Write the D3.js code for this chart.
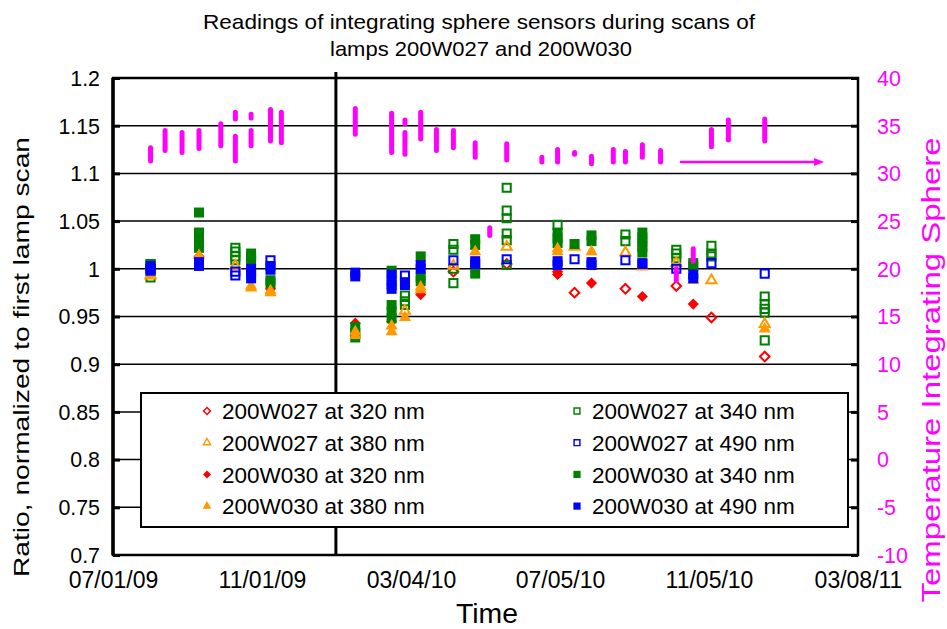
<!DOCTYPE html>
<html><head><meta charset="utf-8">
<script src="https://cdn.jsdelivr.net/npm/d3@7"></script>
<style>body{margin:0;background:#fff} svg{display:block}</style>
</head><body><svg id="c" width="947" height="629"></svg>
<script>
// ---------- DATA ----------
const xTickLabels = ["07/01/09","11/01/09","03/04/10","07/05/10","11/05/10","03/08/11"];
const yTicks = [0.7,0.75,0.8,0.85,0.9,0.95,1.0,1.05,1.1,1.15,1.2];
const yTempTicks = [-10,-5,0,5,10,15,20,25,30,35,40];
const dividerDate = "2010-01-01";

const s027_320 = [
 ["2010-04-08",0.997],["2010-05-22",1.005],["2010-07-17",0.975],["2010-08-28",0.979],
 ["2010-10-09",0.982],["2010-11-07",0.949],["2010-12-21",0.908]];
const s027_340 = [
 ["2009-08-01",1.005],["2009-08-01",0.991],
 ["2009-10-10",1.022],["2009-10-10",1.018],["2009-10-10",1.013],["2009-10-10",1.009],
 ["2010-02-27",0.972],["2010-02-27",0.966],["2010-02-27",0.962],
 ["2010-04-08",1.026],["2010-04-08",1.020],["2010-04-08",1.000],["2010-04-08",0.985],
 ["2010-05-22",1.085],["2010-05-22",1.061],["2010-05-22",1.053],["2010-05-22",1.037],["2010-05-22",1.030],["2010-05-22",1.004],
 ["2010-07-03",1.046],
 ["2010-08-28",1.036],["2010-08-28",1.029],
 ["2010-10-09",1.020],["2010-10-09",1.016],["2010-10-09",1.011],
 ["2010-11-07",1.024],["2010-11-07",1.016],["2010-11-07",1.013],
 ["2010-12-21",0.971],["2010-12-21",0.963],["2010-12-21",0.958],["2010-12-21",0.954],["2010-12-21",0.925]];
const s027_380 = [
 ["2009-08-01",0.993],["2009-10-10",1.003],["2010-02-27",0.956],["2010-04-08",1.003],
 ["2010-05-22",1.023],["2010-07-17",1.023],["2010-08-28",1.017],["2010-10-09",1.006],
 ["2010-11-07",0.988],["2010-12-21",0.942]];
const s027_490 = [
 ["2009-08-01",1.000],["2009-10-10",0.997],["2009-10-10",0.993],["2009-11-08",1.009],
 ["2010-02-27",0.993],["2010-04-08",1.009],["2010-05-22",1.010],["2010-07-17",1.010],
 ["2010-08-28",1.009],["2010-10-09",1.000],["2010-11-07",1.006],["2010-12-21",0.995]];
const s030_320 = [
 ["2009-09-10",1.013],["2009-11-08",0.979],["2010-01-17",0.943],["2010-02-16",0.945],
 ["2010-03-12",0.973],["2010-04-26",1.002],["2010-07-03",0.997],["2010-07-03",0.994],
 ["2010-07-31",0.985],["2010-09-11",0.971],["2010-10-23",0.963]];
const s030_340 = [
 ["2009-08-01",1.005],
 ["2009-09-10",1.059],["2009-09-10",1.038],["2009-09-10",1.033],["2009-09-10",1.028],["2009-09-10",1.022],
 ["2009-10-23",1.016],["2009-10-23",1.012],["2009-10-23",1.009],
 ["2009-11-08",0.988],["2009-11-08",0.985],
 ["2010-01-17",0.939],["2010-01-17",0.933],["2010-01-17",0.928],
 ["2010-02-16",0.998],["2010-02-16",0.962],["2010-02-16",0.955],["2010-02-16",0.948],
 ["2010-03-12",1.013],["2010-03-12",0.991],["2010-03-12",0.987],
 ["2010-04-26",1.031],["2010-04-26",1.025],["2010-04-26",0.995],
 ["2010-07-03",1.038],["2010-07-03",1.032],["2010-07-03",1.027],
 ["2010-07-17",1.026],
 ["2010-07-31",1.035],["2010-07-31",1.029],
 ["2010-09-11",1.038],["2010-09-11",1.033],["2010-09-11",1.028],["2010-09-11",1.023],["2010-09-11",1.017],
 ["2010-10-23",1.006],["2010-10-23",1.003]];
const s030_380 = [
 ["2009-08-01",0.994],["2009-09-10",1.014],["2009-10-23",0.982],["2009-10-23",0.980],
 ["2009-11-08",0.977],["2009-11-08",0.975],["2010-01-17",0.934],["2010-01-17",0.930],
 ["2010-02-16",0.940],["2010-02-16",0.934],["2010-02-27",0.949],["2010-03-12",0.981],
 ["2010-03-12",0.978],["2010-04-26",1.018],["2010-07-03",1.021],["2010-07-03",1.018],
 ["2010-07-31",1.018],["2010-09-11",1.002],["2010-10-23",0.988],["2010-12-21",0.937]];
const s030_490 = [
 ["2009-08-01",1.003],["2009-08-01",1.000],["2009-08-01",0.998],
 ["2009-09-10",1.007],["2009-09-10",1.003],
 ["2009-10-23",1.000],["2009-10-23",0.995],["2009-10-23",0.990],
 ["2009-11-08",1.003],["2009-11-08",0.999],
 ["2010-01-17",0.996],["2010-01-17",0.992],
 ["2010-02-16",0.994],["2010-02-16",0.988],["2010-02-16",0.983],["2010-02-16",0.979],
 ["2010-02-27",0.986],["2010-02-27",0.983],
 ["2010-03-12",1.004],["2010-03-12",1.000],
 ["2010-04-26",1.008],["2010-04-26",1.005],
 ["2010-07-03",1.008],["2010-07-03",1.004],
 ["2010-07-31",1.007],["2010-07-31",1.004],
 ["2010-09-11",1.006],["2010-09-11",1.005],
 ["2010-10-23",0.994],["2010-10-23",0.990]];

// temperature of integrating sphere: [date, low, high]
const sphereTemp = [
 ["2009-08-01",31.3,32.7],["2009-08-13",32.4,34.5],["2009-08-27",32.2,34.3],["2009-09-10",32.6,34.5],
 ["2009-09-28",32.9,35.2],["2009-10-10",35.7,36.4],["2009-10-10",31.3,33.9],["2009-10-23",35.8,36.2],
 ["2009-10-23",32.9,34.5],["2009-11-08",33.4,36.7],["2009-11-17",33.2,36.4],
 ["2010-01-17",34.1,36.8],["2010-02-16",32.2,36.3],["2010-02-27",35.2,35.6],["2010-02-27",32.0,34.3],
 ["2010-03-12",33.6,36.4],["2010-03-25",32.4,34.6],["2010-04-08",32.7,34.5],["2010-04-26",31.7,33.2],
 ["2010-05-08",23.5,24.3],["2010-05-22",31.4,33.1],["2010-06-20",31.2,31.7],["2010-07-03",31.2,32.5],
 ["2010-07-17",32.0,32.2],["2010-07-31",31.0,31.8],["2010-08-18",31.2,32.5],["2010-08-28",31.2,32.3],
 ["2010-09-11",31.7,33.0],["2010-09-26",31.2,32.4],["2010-10-09",18.8,20.0],["2010-10-23",20.8,22.1],
 ["2010-11-07",32.8,34.6],["2010-11-21",33.5,35.6],["2010-12-21",33.4,35.7]];
const arrowNote = {from:"2010-10-12", to:"2011-02-08", temp:31.2};

// ---------- STYLE ----------
const FONT = '"Liberation Sans", Arial, sans-serif';
const X0=113, X1=858, Y0=78, Y1=555;
const seriesDefs = [
 {name:"200W027 at 320 nm", data:s027_320, shape:"diamond", color:"#FF0000", filled:false},
 {name:"200W027 at 340 nm", data:s027_340, shape:"square", color:"#008000", filled:false},
 {name:"200W027 at 380 nm", data:s027_380, shape:"triangle", color:"#FF9900", filled:false},
 {name:"200W027 at 490 nm", data:s027_490, shape:"square", color:"#0000FF", filled:false},
 {name:"200W030 at 320 nm", data:s030_320, shape:"diamond", color:"#FF0000", filled:true},
 {name:"200W030 at 340 nm", data:s030_340, shape:"square", color:"#008000", filled:true},
 {name:"200W030 at 380 nm", data:s030_380, shape:"triangle", color:"#FF9900", filled:true},
 {name:"200W030 at 490 nm", data:s030_490, shape:"square", color:"#0000FF", filled:true}];

const svg = d3.select("#c");
const parse = d3.timeParse("%Y-%m-%d");
const parseTick = d3.timeParse("%m/%d/%y");
const tickDates = xTickLabels.map(parseTick);
const x = d3.scaleTime().domain([tickDates[0], tickDates[tickDates.length-1]]).range([X0,X1]);
const y = d3.scaleLinear().domain([0.7,1.2]).range([Y1,Y0]);
const yT = d3.scaleLinear().domain([-10,40]).range([Y1,Y0]);

function condense(cx){
  return sel => sel.each(function(){
    const t=d3.select(this); const xx=+t.attr("x")||0; const yy=+t.attr("y")||0;
    t.attr("x",0).attr("y",0).attr("transform",`translate(${xx},${yy}) scale(${cx},1)`);
  });
}

// gridlines
svg.append("g").selectAll("line").data(yTicks.slice(1,-1)).join("line")
  .attr("x1",X0).attr("x2",X1).attr("y1",d=>y(d)).attr("y2",d=>y(d))
  .attr("stroke","#000").attr("stroke-width",1.5);

// left axis
const fmt = d=> String(+d.toFixed(2));
const gl = svg.append("g").attr("transform",`translate(${X0},0)`)
  .call(d3.axisLeft(y).tickValues(yTicks).tickFormat(fmt).tickSizeInner(-7).tickSizeOuter(0).tickPadding(13))
  .attr("font-family",FONT).attr("font-size",23);
gl.select(".domain").remove();
gl.selectAll(".tick line").attr("stroke","#000").attr("stroke-width",3);
gl.selectAll(".tick text").attr("fill","#000").call(condense(0.93));

// right axis
const gr = svg.append("g").attr("transform",`translate(${X1},0)`)
  .call(d3.axisRight(yT).tickValues(yTempTicks).tickFormat(d=>String(d)).tickSizeInner(-7).tickSizeOuter(0).tickPadding(19))
  .attr("font-family",FONT).attr("font-size",23);
gr.select(".domain").remove();
gr.selectAll(".tick line").attr("stroke","#000").attr("stroke-width",3);
gr.selectAll(".tick text").attr("fill","#FF00FF").call(condense(0.93));

// bottom axis
const gb = svg.append("g").attr("transform",`translate(0,${Y1})`)
  .call(d3.axisBottom(x).tickValues(tickDates).tickFormat((d,i)=>xTickLabels[i]).tickSizeInner(0).tickSizeOuter(0).tickPadding(17))
  .attr("font-family",FONT).attr("font-size",23);
gb.select(".domain").remove();
gb.selectAll(".tick line").remove();
gb.selectAll(".tick text").attr("fill","#000").call(condense(1.0));

// divider line
svg.append("line").attr("x1",x(parse(dividerDate))).attr("x2",x(parse(dividerDate)))
  .attr("y1",Y0-6).attr("y2",Y1).attr("stroke","#000").attr("stroke-width",3);

// markers
function symPath(shape, filled, s){
  if(shape==="square") return d3.symbol(d3.symbolSquare, (filled?100:66)*s*s)();
  if(shape==="diamond") return d3.symbol(d3.symbolSquare, (filled?62:46)*s*s)();
  return d3.symbol(d3.symbolTriangle, (filled?64:44)*s*s)();
}
function drawMarker(g, def, px, py, s){
  g.append("path").attr("d",symPath(def.shape,def.filled,s))
   .attr("transform",`translate(${px},${py})`+(def.shape==="diamond"?" rotate(45)":""))
   .attr("fill",def.filled?def.color:"none")
   .attr("stroke",def.color).attr("stroke-width",def.filled?0:2*s);
}
const gm = svg.append("g");
seriesDefs.forEach(def=>{
  def.data.forEach(([d,v])=>drawMarker(gm, def, x(parse(d)), y(v), 1));
});

// temperature streaks
svg.append("g").selectAll("line").data(sphereTemp).join("line")
  .attr("x1",d=>x(parse(d[0]))).attr("x2",d=>x(parse(d[0])))
  .attr("y1",d=>yT(d[1])).attr("y2",d=>yT(d[2]))
  .attr("stroke","#FF00FF").attr("stroke-width",5).attr("stroke-linecap","round");

// arrow
const ax1=x(parse(arrowNote.from)), ax2=x(parse(arrowNote.to)), ay=yT(arrowNote.temp);
svg.append("line").attr("x1",ax1).attr("x2",ax2-7).attr("y1",ay).attr("y2",ay)
  .attr("stroke","#FF00FF").attr("stroke-width",2.5);
svg.append("path").attr("d",`M${ax2},${ay} L${ax2-10},${ay-4} L${ax2-10},${ay+4} Z`).attr("fill","#FF00FF");

// frame
svg.append("rect").attr("x",X0).attr("y",Y0).attr("width",X1-X0).attr("height",Y1-Y0)
  .attr("fill","none").attr("stroke","#000").attr("stroke-width",2.5);
svg.append("line").attr("x1",X0).attr("x2",X0).attr("y1",Y0).attr("y2",Y1).attr("stroke","#000").attr("stroke-width",3.5);

// legend
const lg = svg.append("g");
lg.append("rect").attr("x",141).attr("y",393).attr("width",707).attr("height",134)
  .attr("fill","#fff").attr("stroke","#000").attr("stroke-width",2);
seriesDefs.forEach((def,i)=>{
  const col=i%2, row=Math.floor(i/2);
  const mx = col? 577:207, ty = 411 + row*31.7;
  drawMarker(lg, def, mx, ty, 0.72);
  lg.append("text").attr("x",mx+15).attr("y",ty).attr("dy","0.36em")
    .attr("font-family",FONT).attr("font-size",22.5).attr("fill","#000").text(def.name);
});

// titles
svg.append("text").attr("x",479).attr("y",29).attr("text-anchor","middle")
  .attr("font-family",FONT).attr("font-size",21).text("Readings of integrating sphere sensors during scans of")
  .attr("textLength",552).attr("lengthAdjust","spacingAndGlyphs");
svg.append("text").attr("x",481).attr("y",56).attr("text-anchor","middle")
  .attr("font-family",FONT).attr("font-size",21).text("lamps 200W027 and 200W030")
  .attr("textLength",302).attr("lengthAdjust","spacingAndGlyphs");
svg.append("text").attr("transform",`translate(487,623)`).attr("text-anchor","middle")
  .attr("font-family",FONT).attr("font-size",27).text("Time")
  .attr("textLength",62).attr("lengthAdjust","spacingAndGlyphs");
svg.append("text").attr("transform",`translate(29,357) rotate(-90)`).attr("text-anchor","middle")
  .attr("font-family",FONT).attr("font-size",22).text("Ratio, normalized to first lamp scan")
  .attr("textLength",440).attr("lengthAdjust","spacingAndGlyphs");
svg.append("text").attr("transform",`translate(940,370) rotate(-90)`).attr("text-anchor","middle")
  .attr("font-family",FONT).attr("font-size",25).attr("fill","#FF00FF").text("Temperature Integrating Sphere")
  .attr("textLength",465).attr("lengthAdjust","spacingAndGlyphs");
</script></body></html>
